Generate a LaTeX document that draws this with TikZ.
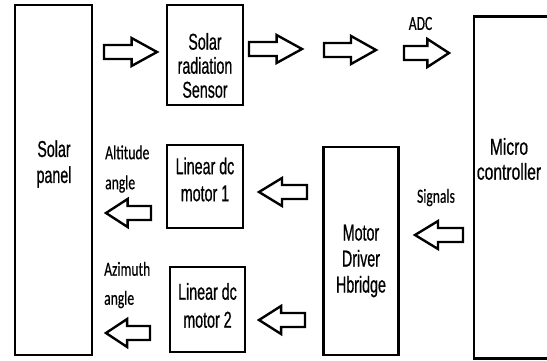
\documentclass[tikz,border=0pt]{standalone}
\usepackage{fontspec}
\newfontfamily\boxfont{Liberation Sans}[FakeStretch=0.62,FakeBold=0.6]
\newfontfamily\boxfontw{Liberation Sans}[FakeStretch=0.68,FakeBold=0.6]
\newfontfamily\lblfont{Carlito}[FakeStretch=0.68,FakeBold=0.4]
\begin{document}
\begin{tikzpicture}[x=1pt,y=-1pt,
  blk/.style={draw=black,line width=2.6pt,rectangle,inner sep=0pt},
  boxtxt/.style={align=center,inner sep=0pt},
  lbl/.style={align=left,inner sep=0pt},
  barrow/.style={draw=black,line width=2.4pt,fill=white,line join=miter}]
\useasboundingbox (0,0) rectangle (547,360);
\fill[white] (0,0) rectangle (547,360);
% block arrow macro: name, tail x, tip x, centre y
\newcommand{\BlockArr}[4]{%
  \pgfmathsetmacro{\xh}{#3-0.48*(#3-#2)}%
  \draw[barrow] (#2,#4-7) -- (\xh,#4-7) -- (\xh,#4-14) -- (#3,#4)
     -- (\xh,#4+14) -- (\xh,#4+7) -- (#2,#4+7) -- cycle;
  \coordinate (#1) at (#3,#4);}
% boxes
\node[blk,minimum width=77pt,minimum height=350pt] (panel) at (53.5,180) {};
\node[blk,minimum width=76pt,minimum height=100pt] (sensor) at (205,55) {};
\node[blk,minimum width=76pt,minimum height=83pt] (m1) at (205,186.5) {};
\node[blk,minimum width=75pt,minimum height=85pt] (m2) at (207.5,309.5) {};
\node[blk,minimum width=75pt,minimum height=208pt] (drv) at (361,251) {};
\node[blk,minimum width=80pt,minimum height=342pt,anchor=north west] (mcu) at (472.5,15) {};
% box texts
\node[boxtxt,font=\boxfont\fontsize{23}{26}\selectfont] (tpanel) at (54,164) {Solar\\panel};
\node[boxtxt,font=\boxfont\fontsize{23}{24}\selectfont] (tsensor) at (205,65.5) {Solar\\radiation\\Sensor};
\node[boxtxt,font=\boxfont\fontsize{23}{27}\selectfont] (tm1) at (205,179.5) {Linear dc\\motor 1};
\node[boxtxt,font=\boxfont\fontsize{23}{28}\selectfont] (tm2) at (207.5,305.5) {Linear dc\\motor 2};
\node[boxtxt,font=\boxfont\fontsize{23}{26}\selectfont] (tdrv) at (361,261) {Motor\\Driver\\Hbridge};
\node[boxtxt,font=\boxfontw\fontsize{23}{25}\selectfont] (tmcu) at (509,159) {Micro\\controller};
% labels
\node[lbl,font=\lblfont\fontsize{20}{30}\selectfont] (ladc) at (420.5,23.5) {ADC};
\node[lbl,font=\lblfont\fontsize{20}{30}\selectfont] (lsig) at (436,197.5) {Signals};
\node[lbl,anchor=west,font=\lblfont\fontsize{20}{30}\selectfont] (lalt) at (105,169) {Altitude\\angle};
\node[lbl,anchor=west,font=\lblfont\fontsize{20}{29}\selectfont] (lazi) at (104,285) {Azimuth\\angle};
% block arrows
\BlockArr{a1}{104}{157}{52}
\BlockArr{a2}{249}{302}{49}
\BlockArr{a3}{324}{376}{50}
\BlockArr{a4}{404}{449}{53}
\BlockArr{a5}{307}{259}{192}
\BlockArr{a6}{463}{415}{235}
\BlockArr{a7}{151}{106}{213}
\BlockArr{a8}{305}{259}{320}
\BlockArr{a9}{150}{106}{333}
\end{tikzpicture}
\end{document}
